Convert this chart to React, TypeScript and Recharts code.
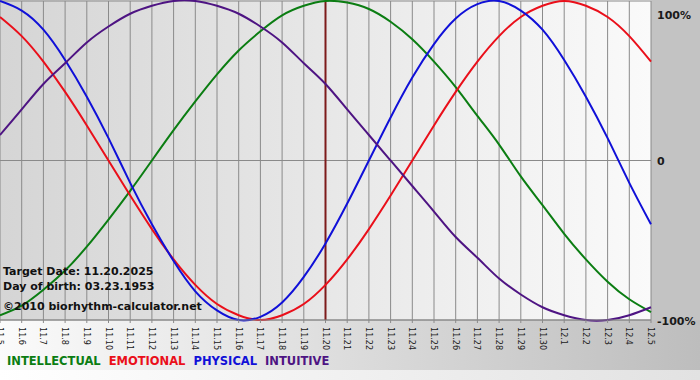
import { LineChart, Line, XAxis, YAxis, CartesianGrid, ReferenceLine } from 'recharts';

const days = [
  '11.5', '11.6', '11.7', '11.8', '11.9', '11.10', '11.11', '11.12', '11.13', '11.14',
  '11.15', '11.16', '11.17', '11.18', '11.19', '11.20', '11.21', '11.22', '11.23', '11.24',
  '11.25', '11.26', '11.27', '11.28', '11.29', '11.30', '12.1', '12.2', '12.3', '12.4', '12.5',
];

const intellectual = [
  -0.97, -0.91, -0.81, -0.69, -0.54, -0.37, -0.19, 0, 0.19, 0.37,
  0.54, 0.69, 0.81, 0.91, 0.97, 1.0, 0.99, 0.95, 0.87, 0.76,
  0.62, 0.46, 0.28, 0.1, -0.1, -0.28, -0.46, -0.62, -0.76, -0.87, -0.95,
];
const emotional = [
  0.9, 0.78, 0.62, 0.43, 0.22, 0, -0.22, -0.43, -0.62, -0.78,
  -0.9, -0.97, -1.0, -0.97, -0.9, -0.78, -0.62, -0.43, -0.22, 0,
  0.22, 0.43, 0.62, 0.78, 0.9, 0.97, 1.0, 0.97, 0.9, 0.78, 0.62,
];
const physical = [
  1.0, 0.94, 0.82, 0.63, 0.4, 0.14, -0.14, -0.4, -0.63, -0.82,
  -0.94, -1.0, -0.98, -0.89, -0.73, -0.52, -0.27, 0, 0.27, 0.52,
  0.73, 0.89, 0.98, 1.0, 0.94, 0.82, 0.63, 0.4, 0.14, -0.14, -0.4,
];
const intuitive = [
  0.16, 0.32, 0.48, 0.61, 0.74, 0.84, 0.92, 0.97, 1.0, 1.0,
  0.97, 0.92, 0.84, 0.74, 0.61, 0.48, 0.32, 0.16, 0, -0.16,
  -0.32, -0.48, -0.61, -0.74, -0.84, -0.92, -0.97, -1.0, -1.0, -0.97, -0.92,
];

const yTicks = [-1, 0, 1];
const yLabels: Record<string, string> = { '-1': '-100%', '0': '0', '1': '100%' };
const targetDay = '11.20';
const infoLines = ['Target Date: 11.20.2025', 'Day of birth: 03.23.1953', '©2010 biorhythm-calculator.net'];
const legend = [
  { name: 'INTELLECTUAL', color: '#0b7d12' },
  { name: 'EMOTIONAL', color: '#ea0f1a' },
  { name: 'PHYSICAL', color: '#1010d8' },
  { name: 'INTUITIVE', color: '#4e1483' },
];

const data = days.map((day, i) => ({
  day,
  intellectual: intellectual[i],
  emotional: emotional[i],
  physical: physical[i],
  intuitive: intuitive[i],
}));

const font = "'DejaVu Sans', Verdana, sans-serif";

const DayTick = ({ x, y, payload }: any) => (
  <text
    x={0}
    y={0}
    transform={`translate(${x},${y + 2}) rotate(90)`}
    textAnchor="start"
    dominantBaseline="central"
    fontSize={9}
    fontFamily="'DejaVu Sans Condensed', 'DejaVu Sans', sans-serif"
    fill="#1a1a1a"
  >
    {payload.value}
  </text>
);

const PctTick = ({ x, y, payload }: any) => (
  <text
    x={x}
    y={y + (payload.value === 1 ? 6 : 1)}
    textAnchor="start"
    dominantBaseline="central"
    fontSize={11}
    fontWeight="bold"
    fontFamily={font}
    fill="#1a1a1a"
  >
    {yLabels[String(payload.value)]}
  </text>
);

export default function App() {
  return (
    <div style={{ position: 'absolute', left: 0, top: 0, width: 700, height: 380, background: '#fff', overflow: 'hidden' }}>
      {/* backdrop */}
      <div style={{ position: 'absolute', left: 0, top: 0, width: 651, height: 320, background: 'linear-gradient(to right, #d5d5d5, #fafafa)' }} />
      <div style={{ position: 'absolute', left: 651, top: 0, width: 49, height: 320, background: '#c3c3c3' }} />
      <div style={{ position: 'absolute', left: 0, top: 320, width: 700, height: 50, background: 'linear-gradient(to right, #fbfbfb, #bdbdbd)' }} />
      <div style={{ position: 'absolute', left: 0, top: 370, width: 700, height: 10, background: 'linear-gradient(to right, #ffffff, #e2e2e2)' }} />

      <div style={{ position: 'absolute', left: 0, top: 0 }}>
        <LineChart width={700} height={380} data={data} margin={{ top: 1, right: 0, left: 0, bottom: 10 }}>
          <CartesianGrid stroke="#8a8a8a" strokeWidth={1} />
          <XAxis
            dataKey="day"
            interval={0}
            height={50}
            tick={<DayTick />}
            tickSize={3}
            tickLine={{ stroke: '#8a8a8a' }}
            axisLine={{ stroke: '#8a8a8a' }}
          />
          <YAxis
            orientation="right"
            width={49}
            domain={[-1, 1]}
            ticks={yTicks}
            tickSize={0}
            tickMargin={6}
            axisLine={false}
            tick={<PctTick />}
          />
          <ReferenceLine y={0} stroke="#8a8a8a" />
          <ReferenceLine x={targetDay} stroke="#7d1b1b" strokeWidth={2} />
          <Line type="natural" dataKey="intellectual" stroke={legend[0].color} strokeWidth={2} dot={false} isAnimationActive={false} />
          <Line type="natural" dataKey="emotional" stroke={legend[1].color} strokeWidth={2} dot={false} isAnimationActive={false} />
          <Line type="natural" dataKey="physical" stroke={legend[2].color} strokeWidth={2} dot={false} isAnimationActive={false} />
          <Line type="natural" dataKey="intuitive" stroke={legend[3].color} strokeWidth={2} dot={false} isAnimationActive={false} />
        </LineChart>
      </div>

      {/* info text over the plot */}
      {infoLines.map((t, i) => (
        <div
          key={t}
          style={{
            position: 'absolute', left: 3, top: [265, 280, 300][i],
            font: `bold 11px ${font}`, color: '#111', whiteSpace: 'nowrap', lineHeight: '13px',
          }}
        >
          {t}
        </div>
      ))}

      <div style={{ position: 'absolute', left: 7, top: 355, font: `bold 11.5px ${font}`, whiteSpace: 'nowrap', lineHeight: '13px' }}>
        {legend.map((l) => (
          <span key={l.name} style={{ color: l.color, marginRight: 8 }}>{l.name}</span>
        ))}
      </div>
    </div>
  );
}
